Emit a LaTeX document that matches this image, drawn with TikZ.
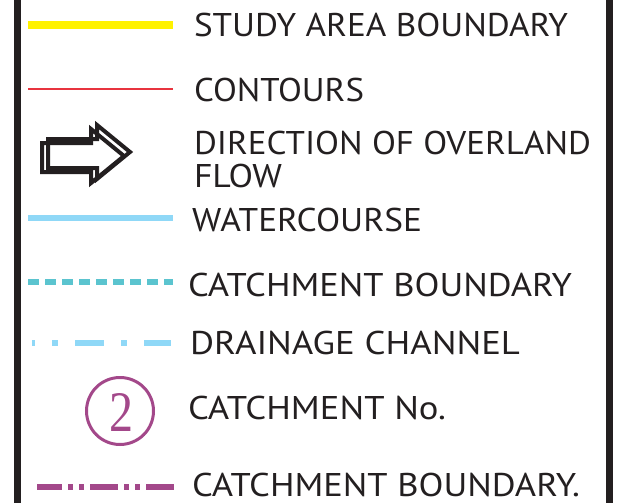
\documentclass[tikz,border=0pt]{standalone}
\usepackage{fontspec}
\setmainfont{PT Sans}
\newfontfamily\numfont{Liberation Serif}
\definecolor{ink}{HTML}{231F20}
\definecolor{studyyellow}{HTML}{FFF200}
\definecolor{contourred}{HTML}{E8343F}
\definecolor{waterblue}{HTML}{8FD8F7}
\definecolor{catchteal}{HTML}{5BC4CF}
\definecolor{catchpurple}{HTML}{A3488A}
\newcommand{\lbl}[2]{\resizebox{#1}{23.4pt}{\fontsize{30pt}{30pt}\selectfont #2}}
\tikzset{
  legtext/.style={inner sep=0pt, outer sep=0pt, anchor=south west, text=ink},
  border/.style={draw=ink, line width=7pt},
  sample/.style={line cap=butt},
  arrowline/.style={draw=ink, line width=4pt, line join=miter, miter limit=10}
}
\begin{document}
\begin{tikzpicture}[x=1pt,y=-1pt]
\useasboundingbox (0,0) rectangle (624,503);
% borders
\coordinate (lt) at (17.5,0); \coordinate (lb) at (17.5,503);
\coordinate (rt) at (609.5,0); \coordinate (rb) at (609.5,503);
\draw[border] (lt) -- (lb);
\draw[border] (rt) -- (rb);
% study area boundary
\coordinate (s1a) at (28,25); \coordinate (s1b) at (173,25);
\draw[sample, draw=studyyellow, line width=8pt] (s1a) -- (s1b);
\node[legtext] (t1) at (194,36.7) {\lbl{374pt}{STUDY AREA BOUNDARY}};
% contours
\coordinate (s2a) at (28,89); \coordinate (s2b) at (173,89);
\draw[sample, draw=contourred, line width=2pt] (s2a) -- (s2b);
\node[legtext] (t2) at (194,101.7) {\lbl{170pt}{CONTOURS}};
% arrow
\draw[arrowline, shift={(-6,4)}] (48,139) -- (97,139) -- (97,125) -- (130,152) -- (97,179) -- (97,168) -- (48,168) -- cycle;
\draw[arrowline] (48,139) -- (97,139) -- (97,125) -- (130,152) -- (97,179) -- (97,168) -- (48,168) -- cycle;
\node[legtext] (t3) at (194,155) {\lbl{397pt}{DIRECTION OF OVERLAND}};
\node[legtext] (t4) at (194,188.3) {\lbl{88pt}{FLOW}};
% watercourse
\coordinate (s3a) at (28,218); \coordinate (s3b) at (173,218);
\draw[sample, draw=waterblue, line width=6pt] (s3a) -- (s3b);
\node[legtext] (t5) at (192,231.7) {\lbl{230pt}{WATERCOURSE}};
% catchment boundary (dashed)
\coordinate (s4a) at (28,282); \coordinate (s4b) at (173,282);
\draw[sample, draw=catchteal, line width=6pt, dash pattern=on 11pt off 6pt] (s4a) -- (s4b);
\node[legtext] (t6) at (188,296.7) {\lbl{384pt}{CATCHMENT BOUNDARY}};
% drainage channel
\coordinate (s5a) at (32,343); \coordinate (s5b) at (171,343);
\draw[sample, draw=waterblue, line width=6pt, dash pattern=on 29pt off 17pt on 6pt off 17pt, dash phase=26pt] (s5a) -- (s5b);
\node[legtext] (t7) at (190,354.5) {\lbl{330pt}{DRAINAGE CHANNEL}};
% catchment number
\node[circle, draw=catchpurple, line width=3pt, minimum size=67pt, inner sep=0pt] (c2) at (120,411) {};
\node[inner sep=0pt, text=catchpurple] (n2) at (121,412) {\resizebox{24pt}{38pt}{\numfont 2}};
\node[legtext] (t8) at (188,420) {\lbl{258pt}{CATCHMENT No.}};
% catchment boundary (dash-dot-dot)
\coordinate (s6a) at (37,487); \coordinate (s6b) at (175,487);
\draw[sample, draw=catchpurple, line width=6pt, dash pattern=on 28pt off 6pt on 5pt off 6pt on 5pt off 6pt, dash phase=3pt] (s6a) -- (s6b);
\node[legtext] (t9) at (192,496.7) {\lbl{388pt}{CATCHMENT BOUNDARY.}};
\end{tikzpicture}
\end{document}
